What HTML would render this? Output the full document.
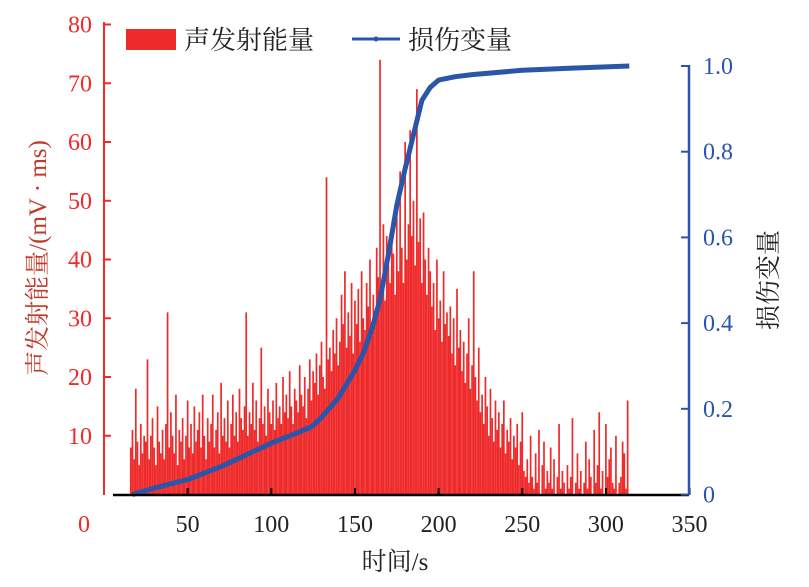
<!DOCTYPE html>
<html><head><meta charset="utf-8"><style>
body{margin:0;background:#fff}
svg text{font-family:"Liberation Serif","Noto Serif CJK SC",serif}
</style></head><body>
<svg id="c" width="809" height="582"></svg>
<script>
const startSec = 16;
const energy = [
8,11,6,18,9,5,12,7,10,9,
23,6,10,13,8,5,15,9,7,11,
6,12,31,8,14,10,7,17,5,11,
9,13,6,10,16,8,12,7,15,9,
11,14,8,17,10,6,13,9,12,17,
8,11,14,7,19,10,13,9,16,8,
12,17,10,14,9,18,13,11,15,31,
10,14,12,19,11,16,9,13,25,12,
15,10,18,14,12,16,11,19,13,15,
12,20,14,17,13,21,15,12,18,16,
14,22,17,15,20,13,18,23,16,21,
19,24,17,22,26,20,18,54,23,25,
21,28,24,30,22,26,34,29,38,25,
31,27,36,24,33,29,35,26,38,30,
28,36,32,40,27,34,31,42,37,74,
35,46,33,44,39,36,45,41,34,48,
38,55,42,36,60,40,46,62,44,50,
39,69,43,47,36,48,40,34,42,38,
32,36,28,40,30,33,26,38,29,31,
27,32,24,30,22,35,25,28,21,26,
19,24,30,18,22,38,20,16,25,14,
17,12,20,15,10,18,13,9,16,11,
14,8,12,16,7,11,9,13,6,10,
8,12,5,9,14,4,3,6,2,10,
3,1,7,2,11,0,5,9,1,4,
2,8,1,6,0,3,12,1,4,2,
0,5,1,3,13,0,2,7,1,4,
0,2,9,1,6,3,0,11,2,5,
14,1,4,0,12,3,6,8,2,1,
10,0,2,3,9,7,1,16];
const damageT = [17,30,50,70,83,100,115,124,130,140,150,155,160,165,170,175,180,185,190,195,200,210,220,250,280,314];
const damageD = [0,0.015,0.035,0.065,0.089,0.12,0.143,0.158,0.18,0.225,0.29,0.33,0.385,0.455,0.56,0.675,0.76,0.84,0.92,0.95,0.967,0.975,0.98,0.99,0.995,1.0];
const xTicks = [50,100,150,200,250,300,350];
const yTicks = [10,20,30,40,50,60,70,80];
const rTicks = [0,0.2,0.4,0.6,0.8,1.0];
const rLabels = ["0","0.2","0.4","0.6","0.8","1.0"];

const X0=104, XS=1.673, Y0=494.5, YS=5.875, RS=428.5;
const x = t => X0 + t*XS;
const y = v => Y0 - v*YS;
const yr = d => Y0 - d*RS;
const svg = document.getElementById('c');
const NS='http://www.w3.org/2000/svg';
function el(tag, attrs, txt){const e=document.createElementNS(NS,tag);for(const k in attrs)e.setAttribute(k,attrs[k]);if(txt!==undefined)e.textContent=txt;svg.appendChild(e);return e;}

energy.forEach((v,i)=>{
  const t=startSec+i;
  const b=el('rect',{x:x(t)-0.85,y:y(v),width:1.7,height:Math.max(0,Y0-y(v)),fill:'#ee2a2a'});
  
  
});
let d='';
damageT.forEach((t,i)=>{d+=(i?'L':'M')+x(t).toFixed(1)+','+yr(damageD[i]).toFixed(1);});
const ln=el('path',{d:d,fill:'none',stroke:'#2a55a8','stroke-width':5,'stroke-linejoin':'round'});



const xa=el('line',{x1:113,y1:495,x2:689,y2:495,stroke:'#000','stroke-width':2.5});


xTicks.forEach(t=>{
  el('line',{x1:x(t),y1:495,x2:x(t),y2:488,stroke:'#000','stroke-width':2});
  const tl=el('text',{x:x(t),y:532,'text-anchor':'middle','font-size':24,fill:'#222'},String(t));
  
  
});
const la=el('line',{x1:104,y1:22,x2:104,y2:495,stroke:'#ee2a2a','stroke-width':2});


yTicks.forEach(v=>{
  el('line',{x1:104,y1:y(v),x2:111,y2:y(v),stroke:'#ee2a2a','stroke-width':2});
  const tl=el('text',{x:92,y:y(v)+8,'text-anchor':'end','font-size':24,fill:'#ee2a2a'},String(v));
  
  
});
const z=el('text',{x:84,y:532,'text-anchor':'middle','font-size':24,fill:'#ee2a2a'},'0');


const ra=el('line',{x1:689,y1:65,x2:689,y2:495,stroke:'#2a55a8','stroke-width':2.5});


rTicks.forEach((v,i)=>{
  el('line',{x1:681,y1:yr(v),x2:689,y2:yr(v),stroke:'#2a55a8','stroke-width':2});
  const tl=el('text',{x:703,y:yr(v)+8,'font-size':24,fill:'#2a55a8'},rLabels[i]);
  
  
});
const xt=el('text',{x:395,y:570,'text-anchor':'middle','font-size':25,fill:'#222'},'时间/s');


const lt=el('text',{x:0,y:0,'text-anchor':'middle','font-size':25,fill:'#c0392b',transform:'translate(46,258) rotate(-90)'},'声发射能量/(mV · ms)');


const rt=el('text',{x:0,y:0,'text-anchor':'middle','font-size':25,fill:'#222',transform:'translate(777,280) rotate(-90)'},'损伤变量');


const l1=el('rect',{x:126,y:29,width:50,height:21,fill:'#ee2a2a'});


const l1t=el('text',{x:184,y:49,'font-size':26,fill:'#222'},'声发射能量');


const l2=el('line',{x1:352,y1:39,x2:400,y2:39,stroke:'#2a55a8','stroke-width':3});


el('circle',{cx:376,cy:39,r:2.5,fill:'#2a55a8'});
const l2t=el('text',{x:408,y:49,'font-size':26,fill:'#222'},'损伤变量');


</script>
</body></html>
